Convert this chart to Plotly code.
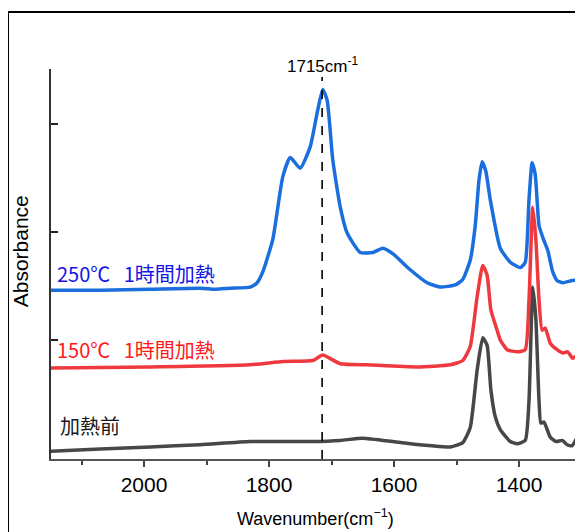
import plotly.graph_objects as go

# Wavenumbers (cm-1) and absorbance (offset, arbitrary units)
wn_250 = [2150, 2070, 1990, 1910, 1886, 1862, 1830, 1819, 1810, 1794, 1778, 1766, 1750, 1734, 1722,
          1714, 1707, 1698, 1686, 1675, 1654, 1634, 1618, 1602, 1574, 1547, 1526, 1502, 1490, 1478,
          1470, 1464, 1459, 1453, 1446, 1430, 1414, 1398, 1390, 1384, 1379, 1374, 1368, 1362, 1354,
          1346, 1339, 1330, 1315, 1299]
abs_250 = [1.46, 1.46, 1.47, 1.48, 1.47, 1.48, 1.49, 1.53, 1.63, 1.93, 2.51, 2.69, 2.59, 2.79, 3.13,
           3.32, 3.22, 2.67, 2.23, 1.99, 1.81, 1.81, 1.85, 1.80, 1.65, 1.53, 1.49, 1.51, 1.56, 1.74,
           2.06, 2.48, 2.65, 2.56, 2.30, 1.85, 1.72, 1.67, 1.72, 2.30, 2.64, 2.53, 2.06, 1.95, 1.83,
           1.63, 1.55, 1.53, 1.55, 1.56]

wn_150 = [2150, 1990, 1830, 1778, 1730, 1714, 1686, 1643, 1563, 1510, 1490, 1478, 1467, 1458, 1451,
          1445, 1435, 1430, 1419, 1402, 1390, 1384, 1378, 1373, 1368, 1363, 1358, 1350, 1339, 1330,
          1322, 1314, 1306, 1299]
abs_150 = [0.74, 0.75, 0.77, 0.80, 0.81, 0.86, 0.78, 0.77, 0.75, 0.77, 0.81, 0.94, 1.40, 1.69, 1.60,
           1.28, 1.09, 1.00, 0.91, 0.89, 0.91, 1.37, 2.23, 1.93, 1.37, 1.09, 1.11, 0.97, 0.91, 0.88,
           0.89, 0.83, 0.86, 0.85]

wn_0 = [2150, 2070, 1990, 1910, 1830, 1730, 1686, 1650, 1590, 1510, 1490, 1478, 1467, 1458, 1451,
        1445, 1438, 1430, 1414, 1403, 1390, 1384, 1378, 1373, 1368, 1365, 1360, 1350, 1341, 1331,
        1323, 1315, 1307, 1299]
abs_0 = [-0.03, -0.01, 0.01, 0.03, 0.06, 0.06, 0.07, 0.09, 0.05, 0.01, 0.05, 0.19, 0.72, 1.02, 0.95,
         0.54, 0.29, 0.17, 0.06, 0.04, 0.07, 0.44, 1.49, 1.19, 0.44, 0.23, 0.24, 0.10, 0.06, 0.07,
         0.03, 0.02, 0.09, 0.06]

series_names = ["加熱前", "150℃   1時間加熱", "250℃   1時間加熱"]
line_colors = ["#474747", "#f0393f", "#1a6ede"]
text_colors = ["#1a1a1a", "#ff1a1a", "#1414e6"]
label_wn = [2138, 2143, 2143]
label_abs = [0.21, 0.91, 1.62]

marker_wn = 1715
marker_label = "1715cm<sup>-1</sup>"
x_ticks = [2000, 1800, 1600, 1400]
y_ticks = [1, 2, 3]

fig = go.Figure()
for wn, ab, name, col in [(wn_0, abs_0, series_names[0], line_colors[0]),
                          (wn_150, abs_150, series_names[1], line_colors[1]),
                          (wn_250, abs_250, series_names[2], line_colors[2])]:
    fig.add_trace(go.Scatter(x=wn, y=ab, mode="lines", name=name,
                             line=dict(color=col, width=3.5, shape="spline", smoothing=0.5),
                             showlegend=False))

for name, xw, ya, tc in zip(series_names, label_wn, label_abs, text_colors):
    fig.add_annotation(x=xw, y=ya, text=name, showarrow=False, xanchor="left", yanchor="middle",
                       font=dict(family="Noto Sans CJK JP", size=20, color=tc))

# dashed marker line
fig.add_shape(type="line", x0=marker_wn, x1=marker_wn, y0=-0.102, y1=3.435,
              xref="x", yref="y", line=dict(color="black", width=1.6, dash="dash"))
fig.add_annotation(x=marker_wn, y=3.43, text=marker_label, showarrow=False, xanchor="center",
                   yanchor="bottom", font=dict(family="Liberation Sans, Arial", size=17, color="black"))

# outer frame
fig.add_shape(type="rect", xref="paper", yref="paper", x0=-0.0808, x1=1.3, y0=-0.6, y1=1.146,
              line=dict(color="black", width=2), fillcolor="rgba(0,0,0,0)")

fig.add_annotation(xref="paper", yref="paper", x=0.498, y=-0.151, text="Wavenumber(cm<sup>−1</sup>)",
                   showarrow=False, xanchor="center", yanchor="middle",
                   font=dict(family="Liberation Sans, Arial", size=18, color="black"))
fig.add_annotation(xref="paper", yref="paper", x=-0.058, y=0.533, text="Absorbance", textangle=-90,
                   showarrow=False, xanchor="center", yanchor="middle",
                   font=dict(family="Liberation Sans, Arial", size=21, color="black"))

fig.update_layout(
    width=575, height=524,
    margin=dict(l=43, r=0, t=61, b=73),
    paper_bgcolor="white", plot_bgcolor="white",
    xaxis=dict(range=[2148.8, 1297.6], tickvals=x_ticks, ticks="outside", ticklen=6, tickwidth=1.5,
               tickcolor="#444", showline=True, linecolor="#555", linewidth=1.5, showgrid=False,
               zeroline=False, ticklabelstandoff=0,
               tickfont=dict(family="Liberation Sans, Arial", size=21, color="black"),
               minor=dict(dtick=100, tick0=0, ticks="outside", ticklen=4, tickwidth=1.5, tickcolor="#444")),
    yaxis=dict(range=[-0.102, 3.509], tickvals=y_ticks, ticks="inside", ticklen=7, tickwidth=1.5,
               tickcolor="#222", showticklabels=False, showline=True, linecolor="#333", linewidth=2,
               showgrid=False, zeroline=False),
)

fig.write_html("out.html")
